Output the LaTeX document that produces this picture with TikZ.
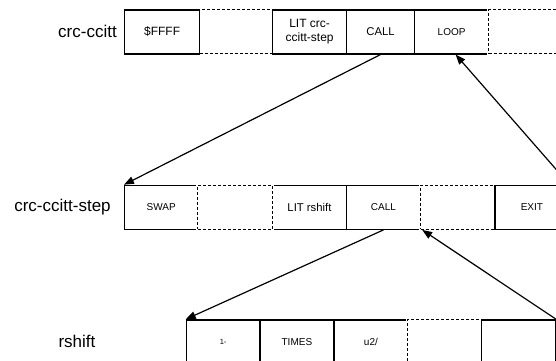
\documentclass[tikz,border=0pt]{standalone}
\usepackage{fontspec}
\setmainfont{Liberation Sans}
\usetikzlibrary{arrows.meta}
\begin{document}
\begin{tikzpicture}[x=1pt,y=-1pt,
  cell/.style={draw=black, line width=1.2pt, fill=white, inner sep=0pt,
    minimum height=44pt, anchor=north west, align=center},
  gapcell/.style={cell, line width=1pt, dash pattern=on 3pt off 2pt,
    preaction={draw=white, solid, line width=2.8pt}},
  rowlabel/.style={inner sep=0pt, font=\fontsize{17}{20}\selectfont},
  big/.style={font=\fontsize{12}{14}\selectfont},
  mid/.style={font=\fontsize{11.3}{13}\selectfont},
  small/.style={font=\fontsize{10}{12}\selectfont},
  tiny/.style={font=\fontsize{7.5}{9}\selectfont},
  link/.style={line width=1.2pt, -{Triangle[length=10pt,width=7.5pt]}}
]
\useasboundingbox (0,0) rectangle (556,360);

% row labels
\node[rowlabel] (l1) at (87.5,31) {crc-ccitt};
\node[rowlabel] (l2) at (62.5,207) {crc-ccitt-step};
\node[rowlabel] (l3) at (77,341) {rshift};

% crc-ccitt
\node[gapcell, minimum width=73pt] (g1a) at (199,9.3) {};
\node[cell, big, minimum width=75pt] (ffff) at (124,9.3) {\$FFFF};
\node[cell, big, minimum width=74pt] (litstep) at (272,9.3) {LIT crc-\\ccitt-step};
\node[cell, mid, minimum width=68pt] (call1) at (346,9.3) {CALL};
\node[cell, small, minimum width=74pt] (loop) at (414,9.3) {LOOP};
\node[gapcell, minimum width=74pt] (g1b) at (488,9.3) {};

% crc-ccitt-step
\node[cell, small, minimum width=73.3pt] (swap) at (124,184.7) {SWAP};
\node[cell, mid, minimum width=73.7pt] (litrs) at (272,184.7) {LIT rshift};
\node[gapcell, minimum width=74.7pt] (g2a) at (197.3,184.7) {};
\node[cell, small, minimum width=74.3pt] (call2) at (345.7,184.7) {CALL};
\node[gapcell, minimum width=74.3pt] (g2b) at (420,184.7) {};
\node[cell, small, minimum width=74pt] (exit) at (494.3,184.7) {EXIT};

% rshift
\node[cell, tiny, minimum width=73.6pt] (dec) at (185.7,319.3) {1-};
\node[cell, small, minimum width=74pt] (times) at (259.3,319.3) {TIMES};
\node[cell, small, minimum width=74pt] (utwo) at (333.3,319.3) {u2/};
\node[gapcell, minimum width=73.7pt] (g3) at (407.3,319.3) {};
\node[cell, minimum width=74pt] (last) at (481,319.3) {};

% calls and returns
\draw[link] (call1.south) -- (swap.north west);
\draw[link] (exit.north east) -- ([xshift=4pt]loop.south);
\draw[link] (call2.south) -- (dec.north west);
\draw[link] (last.north east) -- ([xshift=1pt]call2.south east);
\end{tikzpicture}
\end{document}
